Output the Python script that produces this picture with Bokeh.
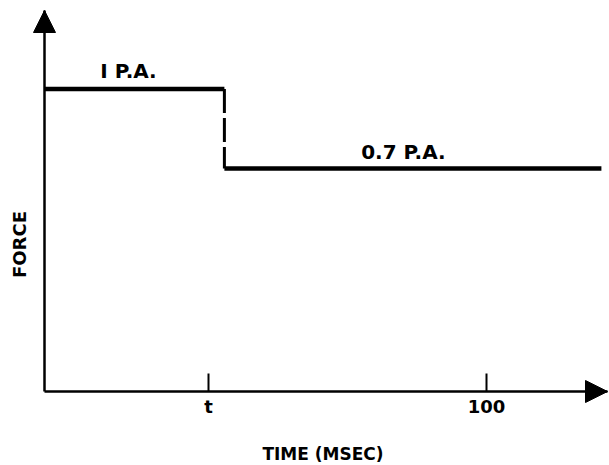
import math
from bokeh.plotting import figure
from bokeh.models import Range1d, FixedTicker, Arrow, NormalHead, Label, LinearAxis
from bokeh.embed import file_html
from bokeh.resources import INLINE

# ---- data ----
t_step = 40.7          # time (ms) at which force drops
t_end = 126.0          # end of drawn trace (ms)
force_high = 1.0       # 1 P.A. level (relative)
force_low = 0.737      # 0.7 P.A. level as drawn (relative)

high_x = [0.0, t_step]
high_y = [force_high, force_high]
low_x = [t_step, t_end]
low_y = [force_low, force_low]

tick_values = [37.1, 100]
tick_labels = ["t", "100"]

x_axis_end = 127.38
y_axis_end = 1.2595

FONT = "DejaVu Sans"

p = figure(width=609, height=465, output_backend="svg", toolbar_location=None,
           x_range=Range1d(-9.955, 127.83), y_range=Range1d(-0.2446, 1.2926),
           x_axis_location=None, y_axis_location=None,
           min_border_left=0, min_border_right=0, min_border_top=0,
           min_border_bottom=0)
p.background_fill_color = "white"
p.border_fill_color = "white"
p.outline_line_color = None
p.grid.visible = False

# x axis (anchored at force = 0)
xa = LinearAxis(fixed_location=0, bounds=(0, x_axis_end))
xa.ticker = FixedTicker(ticks=tick_values)
xa.major_label_overrides = {v: s for v, s in zip(tick_values, tick_labels)}
xa.major_tick_in = 18
xa.major_tick_out = 0
xa.major_tick_line_width = 2
xa.major_tick_line_color = "black"
xa.minor_tick_line_color = None
xa.axis_line_width = 2.5
xa.axis_line_color = "black"
xa.major_label_standoff = 4
xa.major_label_text_font = FONT
xa.major_label_text_font_style = "bold"
xa.major_label_text_font_size = "18px"
xa.major_label_text_color = "black"
xa.axis_label = "TIME  (MSEC)"
xa.axis_label_text_font = FONT
xa.axis_label_text_font_style = "bold"
xa.axis_label_text_font_size = "17px"
xa.axis_label_text_color = "black"
xa.axis_label_standoff = 24
p.add_layout(xa, "below")

# y axis (anchored at time = 0)
ya = LinearAxis(fixed_location=0, bounds=(0, y_axis_end))
ya.ticker = FixedTicker(ticks=[])
ya.major_tick_line_color = None
ya.minor_tick_line_color = None
ya.major_label_text_font_size = "0px"
ya.axis_line_width = 2.5
ya.axis_line_color = "black"
p.add_layout(ya, "left")

# step trace
p.line(high_x, high_y, line_width=4.5, line_color="black")
p.line(low_x, low_y, line_width=4.5, line_color="black")
p.segment(x0=[t_step], y0=[force_high], x1=[t_step], y1=[force_low],
          line_width=3, line_color="black", line_dash="24 5")

# arrow heads on axes
p.add_layout(Arrow(x_start=x_axis_end - 1, y_start=0, x_end=x_axis_end, y_end=0,
                   line_width=2, line_color="black",
                   end=NormalHead(size=22, fill_color="black", line_color="black")))
p.add_layout(Arrow(x_start=0, y_start=y_axis_end - 0.01, x_end=0, y_end=y_axis_end,
                   line_width=2, line_color="black",
                   end=NormalHead(size=22, fill_color="black", line_color="black")))

# annotations
p.add_layout(Label(x=19.0, y=1.061, text="I P.A.", text_align="center",
                   text_baseline="alphabetic", text_font=FONT,
                   text_font_style="bold", text_font_size="20px",
                   text_color="black"))
p.add_layout(Label(x=81.2, y=0.793, text="0.7 P.A.", text_align="center",
                   text_baseline="alphabetic", text_font=FONT,
                   text_font_style="bold", text_font_size="20px",
                   text_color="black"))
p.add_layout(Label(x=-5.66, y=0.486, text="FORCE", angle=math.pi / 2,
                   text_align="center", text_baseline="middle", text_font=FONT,
                   text_font_style="bold", text_font_size="18px",
                   text_color="black"))

open("out.html", "w").write(file_html(p, INLINE))
